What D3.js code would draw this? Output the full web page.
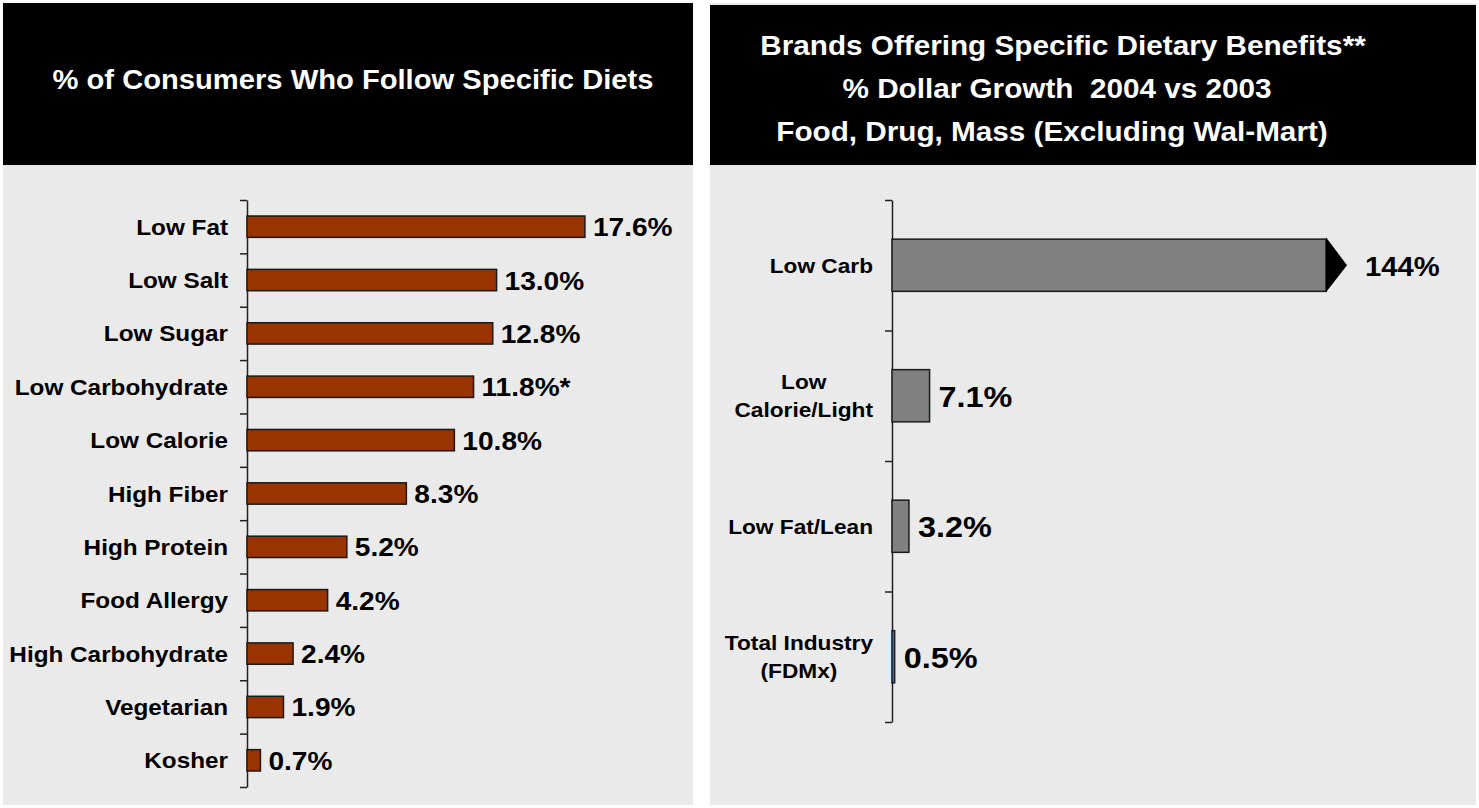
<!DOCTYPE html>
<html>
<head>
<meta charset="utf-8">
<script src="https://cdn.jsdelivr.net/npm/d3@7.9.0/dist/d3.min.js"></script>
<style>
  html, body { margin: 0; padding: 0; background: #fff; }
  svg { display: block; font-family: "Liberation Sans", Arial, sans-serif; font-weight: bold; }
  text { white-space: pre; }
</style>
</head>
<body>
<svg width="1479" height="808"></svg>
<script>
// left chart data
const leftTitle = '% of Consumers Who Follow Specific Diets';
const leftCategories = ['Low Fat', 'Low Salt', 'Low Sugar', 'Low Carbohydrate', 'Low Calorie',
  'High Fiber', 'High Protein', 'Food Allergy', 'High Carbohydrate', 'Vegetarian', 'Kosher'];
const leftValues = [17.6, 13.0, 12.8, 11.8, 10.8, 8.3, 5.2, 4.2, 2.4, 1.9, 0.7];
const leftLabels = ['17.6%', '13.0%', '12.8%', '11.8%*', '10.8%', '8.3%', '5.2%', '4.2%', '2.4%', '1.9%', '0.7%'];

// right chart data
const rightTitle = ['Brands Offering Specific Dietary Benefits**',
  '% Dollar Growth  2004 vs 2003',
  'Food, Drug, Mass (Excluding Wal-Mart)'];
const rightCategories = ['Low Carb', 'Low\nCalorie/Light', 'Low Fat/Lean', 'Total Industry\n(FDMx)'];
const rightValues = [144, 7.1, 3.2, 0.5];
const rightLabels = ['144%', '7.1%', '3.2%', '0.5%'];
const rightBreak = 82; // bars past this value are cut off and get an arrow

// the original text is a bit wider than Arial, so stretch it sideways
const SX = 1.08;

const svg = d3.select('svg');

function addText(g, str, x, y, size, anchor) {
  return g.append('text')
    .attr('transform', `translate(${x},${y}) scale(${SX},1)`)
    .attr('text-anchor', anchor || 'start')
    .style('font-size', size + 'px')
    .text(str);
}

// ---------- left panel ----------
const left = svg.append('g');
left.append('rect').attr('x', 3).attr('y', 3).attr('width', 690).attr('height', 802).attr('fill', '#eaeaea');
left.append('rect').attr('x', 3).attr('y', 3).attr('width', 690).attr('height', 162).attr('fill', '#000');
addText(left, leftTitle, 353, 89, 27, 'middle').attr('fill', '#fff');

const ly = d3.scaleBand().domain(leftCategories).range([200, 787]).paddingInner(0.6).paddingOuter(0.3);
const lx = d3.scaleLinear().domain([0, 20]).range([247, 631]);

// ticks sit between the categories
const lTicks = d3.scaleLinear().domain([0, leftCategories.length]).range([200, 787]);
left.append('g')
  .attr('transform', `translate(${lx(0)},0)`)
  .call(d3.axisLeft(lTicks).ticks(leftCategories.length).tickFormat('').tickSizeOuter(0).tickSizeInner(7))
  .call(g => g.selectAll('path, line').attr('stroke', '#222').attr('stroke-width', 1.5));

left.selectAll('rect.bar')
  .data(leftValues)
  .join('rect')
  .attr('class', 'bar')
  .attr('x', lx(0))
  .attr('y', (d, i) => ly(leftCategories[i]))
  .attr('width', d => lx(d) - lx(0))
  .attr('height', ly.bandwidth())
  .attr('fill', '#993300')
  .attr('stroke', '#1a1a1a')
  .attr('stroke-width', 1.5);

leftCategories.forEach((c, i) => {
  const cy = ly(c) + ly.bandwidth() / 2;
  addText(left, c, lx(0) - 19, cy + 8, 22.5, 'end').attr('fill', '#000');
  addText(left, leftLabels[i], lx(leftValues[i]) + 8, cy + 9.5, 26).attr('fill', '#000');
});

// ---------- right panel ----------
const right = svg.append('g');
right.append('rect').attr('x', 710).attr('y', 3).attr('width', 766).attr('height', 802).attr('fill', '#eaeaea');
right.append('rect').attr('x', 710).attr('y', 5).attr('width', 766).attr('height', 160).attr('fill', '#000');
const titleCenters = [1063, 1057, 1052];
rightTitle.forEach((line, i) => {
  addText(right, line, titleCenters[i], 55 + i * 43, 27.5, 'middle').attr('fill', '#fff');
});

const ry = d3.scaleBand().domain(rightCategories).range([200, 722]).paddingInner(0.6).paddingOuter(0.3);
const rx = d3.scaleLinear().domain([0, rightBreak]).range([892, 1326]);
const rightFill = ['#808080', '#808080', '#808080', '#2f7bd0'];

const rTicks = d3.scaleLinear().domain([0, rightCategories.length]).range([200, 722]);
right.append('g')
  .attr('transform', `translate(${rx(0)},0)`)
  .call(d3.axisLeft(rTicks).ticks(rightCategories.length).tickFormat('').tickSizeOuter(0).tickSizeInner(7))
  .call(g => g.selectAll('path, line').attr('stroke', '#222').attr('stroke-width', 1.5));

right.selectAll('rect.bar')
  .data(rightValues)
  .join('rect')
  .attr('class', 'bar')
  .attr('x', rx(0))
  .attr('y', (d, i) => ry(rightCategories[i]))
  .attr('width', d => rx(Math.min(d, rightBreak)) - rx(0))
  .attr('height', ry.bandwidth())
  .attr('fill', (d, i) => rightFill[i])
  .attr('stroke', '#1a1a1a')
  .attr('stroke-width', 1.5);

rightCategories.forEach((c, i) => {
  const top = ry(c), bw = ry.bandwidth(), cy = top + bw / 2;
  const v = rightValues[i];
  let labelX = rx(Math.min(v, rightBreak)) + 9;
  let size = 30;
  if (v > rightBreak) {
    // arrow head showing the bar continues off the scale
    const x0 = rx(rightBreak);
    right.append('path')
      .attr('d', `M${x0},${top - 2}L${x0 + 21},${cy}L${x0},${top + bw + 1}Z`)
      .attr('fill', '#000');
    labelX = x0 + 39;
    size = 27;
  }
  addText(right, rightLabels[i], labelX, cy + 11, size).attr('fill', '#000');

  // category label: lines centred on each other, block right-aligned to the axis
  const lines = c.split('\n');
  const y0 = cy + 7.5 - (lines.length - 1) * 14;
  const texts = lines.map((ln, k) => addText(right, ln, 0, y0 + k * 28, 21, 'middle').attr('fill', '#000'));
  const w = d3.max(texts, t => t.node().getComputedTextLength()) * SX;
  texts.forEach((t, k) => t.attr('transform', `translate(${rx(0) - 19 - w / 2},${y0 + k * 28}) scale(${SX},1)`));
});
</script>
</body>
</html>
